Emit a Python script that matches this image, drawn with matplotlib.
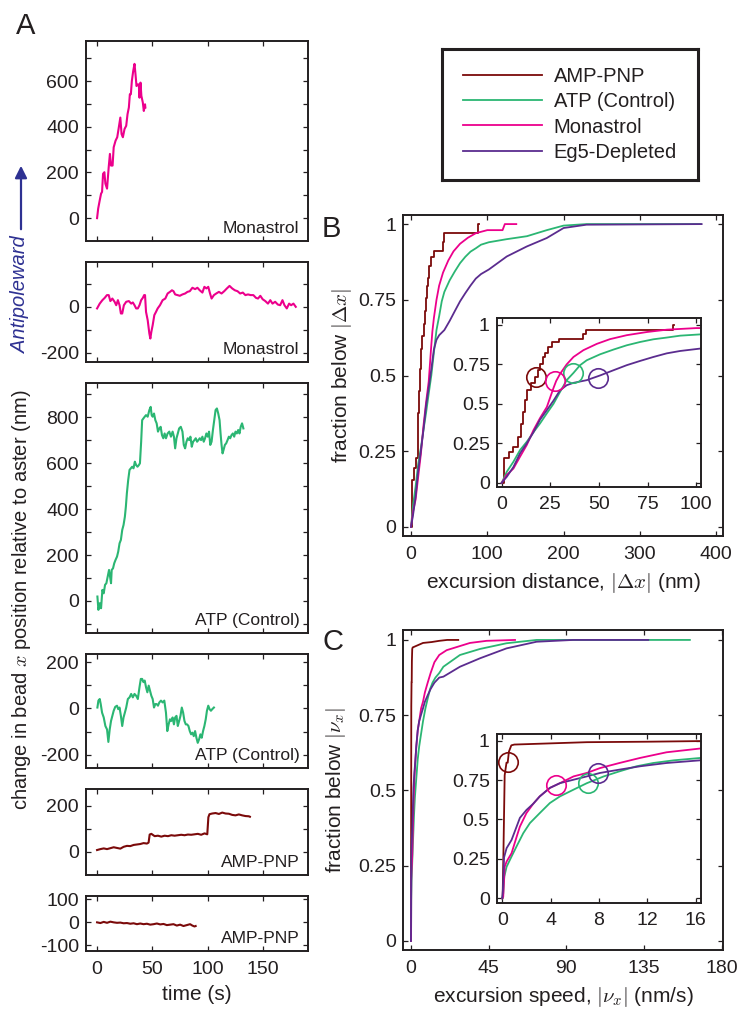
import matplotlib
matplotlib.use('Agg')
import matplotlib.pyplot as plt

plt.rcParams['font.family'] = ['Liberation Sans', 'DejaVu Sans']
plt.rcParams['mathtext.fontset'] = 'cm'
plt.rcParams['axes.unicode_minus'] = False

# ---------------- colours ----------------
C_AMP = '#7b0a0a'
C_ATP = '#2bb673'
C_MON = '#ec008c'
C_EG5 = '#5b2c8f'
C_ARROW = '#2e3192'
TXT = '#231f20'

# ---------------- panel A traces (time s, displacement nm) ----------------
mon1_t = [0, 1, 2.4, 3.6, 4.5, 5.4, 6.6, 7.5, 9, 10.5, 11.6, 12.6, 14, 15, 16.7, 18.2, 19.4, 21, 22.1,
          23.3, 24.8, 26.3, 27.5, 28.7, 29.6, 30.5, 31.4, 32.6, 33.8, 34.7, 35.6, 36.8, 37.7, 38.3,
          39.2, 40, 41.3, 42.2, 43.3, 43.6]
mon1_y = [0, 42, 78, 107, 115, 194, 201, 151, 129, 223, 281, 230, 230, 310, 339, 354, 390, 440, 368,
          354, 390, 404, 455, 484, 542, 542, 600, 643, 675, 629, 578, 585, 585, 527, 593, 535, 506,
          469, 498, 484]

mon2_t = [0, 2.4, 4.8, 6.9, 8.9, 10.5, 12, 13.8, 15.8, 17.3, 18.8, 20.3, 21.5, 22.7, 24.2, 26.3, 28.7,
          30.8, 32.3, 33.8, 35.3, 36.8, 38.3, 39.8, 41.3, 42.5, 43.3, 44.2, 45.7, 47.2, 48.1, 49, 50.2,
          51.7, 53.2, 54.7, 56.8, 59.2, 61.6, 63.7, 65.8, 67.6, 69, 70.5, 72.6, 74.7, 77.1, 79.5, 81.6,
          83.7, 86.1, 88.5, 90.6, 92.7, 95.1, 96.9, 98.7, 100.4, 102, 103.4, 105.5, 107.6, 110, 112.4,
          114.8, 117.2, 119.6, 122, 124.4, 126.8, 129.2, 131.6, 133.9, 136.3, 138.7, 141.1, 143.5,
          145.3, 147.4, 149.5, 151.9, 154.3, 156.4, 158.4, 160.8, 163.2, 165.3, 167.4, 169.2, 171.3,
          173.4, 175.2, 177.3, 179.4]
mon2_y = [-7, 14, 29, 39, 51, 51, 25, 36, 22, 7, 29, 7, -29, -29, 7, 22, 25, 14, 19, 7, -7, -7, 7, 29,
          39, 51, 51, -22, -58, -116, -138, -109, -80, -36, -22, -7, 7, 29, 36, 58, 65, 72, 68, 54, 51,
          48, 54, 58, 65, 68, 83, 77, 83, 72, 62, 87, 80, 87, 58, 36, 51, 58, 65, 58, 68, 80, 91, 80, 72,
          68, 58, 62, 51, 54, 51, 51, 39, 36, 48, 33, 25, 14, 29, 14, 22, 10, 7, 29, 7, -7, 14, 7, 14, 0]

atp1_t = [0.3, 1.2, 2.4, 3.6, 4.8, 6, 7.2, 8.4, 9.6, 10.8, 11.7, 12.6, 13.2, 14.4, 15.5, 16.7, 18, 19.1,
          20.3, 21.5, 22.7, 23.9, 25.1, 26, 26.9, 28.1, 29.3, 30.5, 31.7, 32.9, 34.1, 35.3, 36.5, 37.7,
          38.7, 39.8, 40.7, 41.9, 43, 44.2, 45.7, 47.2, 48.4, 49.3, 50.2, 51.4, 52.6, 53.8, 55, 56.2,
          57.4, 58.6, 59.8, 61, 62.2, 63.7, 65.2, 66.7, 68.2, 69.4, 70.5, 71.7, 72.9, 74.1, 75.6, 77.1,
          78.3, 79.5, 80.7, 81.9, 83.1, 84.3, 85.5, 86.7, 87.9, 89.1, 90.3, 91.5, 92.7, 93.9, 95.1, 96.3,
          97.5, 98.7, 99.9, 101.1, 102.2, 103.4, 104.6, 105.8, 107, 108.2, 109.4, 110.6, 111.5, 112.4,
          113.3, 114.2, 115.4, 116.6, 117.8, 119, 120.2, 121.4, 122.6, 123.8, 125, 126.2, 127.4, 128.6,
          129.7, 130.9, 132.1]
atp1_y = [19, -39, -10, -32, 48, 33, 70, 77, 106, 135, 106, 77, 135, 142, 164, 179, 193, 215, 251, 266,
          309, 331, 367, 411, 469, 527, 571, 578, 585, 578, 607, 592, 585, 592, 600, 694, 788, 796, 803,
          810, 803, 832, 846, 810, 803, 817, 788, 774, 738, 752, 759, 723, 709, 730, 709, 730, 738, 716,
          738, 716, 665, 709, 730, 752, 759, 738, 680, 665, 694, 709, 701, 716, 672, 694, 701, 709, 694,
          701, 709, 701, 716, 694, 709, 730, 716, 738, 680, 694, 745, 788, 832, 839, 817, 788, 730, 680,
          643, 658, 680, 687, 701, 716, 709, 723, 730, 716, 738, 730, 745, 730, 759, 774, 752]

atp2_t = [0.3, 1.2, 2.4, 3.3, 4.5, 6, 7.5, 9, 10.2, 11.4, 12.6, 13.8, 15, 16.4, 18, 19.1, 20.3, 21.5,
          22.7, 23.9, 25.1, 26.3, 27.8, 29.3, 30.8, 32.3, 33.8, 35.3, 36.8, 38.3, 39.5, 40.7, 41.9, 43,
          44.2, 45.4, 46.6, 47.8, 49, 50.2, 51.4, 52.6, 53.8, 55, 56.2, 57.7, 59.2, 60.7, 62.2, 63.4,
          64.6, 65.8, 67, 68.2, 69.4, 70.5, 71.7, 72.9, 74.1, 75.3, 76.5, 77.7, 78.9, 80.1, 81.3, 82.5,
          83.7, 84.9, 86.1, 87.3, 88.5, 89.7, 90.9, 92.1, 93.3, 94.5, 95.7, 96.9, 98.1, 99.2, 100.4,
          101.6, 102.8, 104, 105.5]
atp2_y = [4, 34, 41, 19, -18, -39, -76, -91, -145, -91, -54, -32, -10, 7, 12, -3, 4, -32, -76, -39, -18,
          4, 41, 48, 63, 48, 63, 55, 41, 92, 128, 128, 114, 121, 92, 70, 99, 77, 55, 41, 4, 19, 19, 12,
          26, 34, 26, 34, -18, -98, -69, -47, -54, -39, -69, -39, -32, -76, -54, -32, 4, -18, -54, -69,
          -69, -76, -98, -112, -105, -120, -98, -127, -149, -134, -112, -127, -98, -76, -47, -10, 12, -3,
          -10, -3, 4]

amp1_t = [0, 3, 6, 9, 12, 15, 18, 21, 24, 27, 30, 33, 36, 39, 42, 45, 46.5, 47.5, 49, 52, 55, 58, 61, 64,
          67, 70, 73, 76, 79, 82, 85, 88, 91, 94, 97, 99.5, 100.5, 101.5, 104, 107, 110, 113, 116, 119,
          122, 125, 128, 131, 134, 137, 138]
amp1_y = [8, 12, 15, 12, 16, 20, 17, 14, 22, 26, 25, 30, 32, 34, 38, 36, 40, 75, 78, 68, 70, 66, 70, 68,
          72, 70, 72, 74, 72, 75, 74, 76, 78, 74, 80, 76, 150, 163, 166, 168, 164, 170, 166, 165, 160,
          158, 162, 158, 155, 154, 152]

amp2_t = [0, 3, 6, 9, 12, 15, 18, 21, 24, 27, 30, 33, 36, 39, 42, 45, 48, 51, 54, 57, 60, 63, 66, 69, 72,
          75, 78, 81, 84, 86, 88, 89]
amp2_y = [0, -3, 2, -2, 3, 0, -2, -1, -4, -3, -6, -4, -8, -5, -8, -6, -10, -8, -5, -9, -7, -12, -10, -8,
          -14, -10, -16, -12, -8, -14, -18, -16]

# ---------------- panel B: cumulative fraction vs |dx| (nm) ----------------
b_amp_x = [0, 1.2, 3.9, 6, 8.6, 9.8, 10.8, 11.8, 13.2, 14.9, 17.2, 18.4, 19.7, 21.1, 22.5, 24, 25.7, 29.7,
           42, 43.2, 88, 88.5]
b_amp_y = [0, 0.154, 0.196, 0.228, 0.29, 0.375, 0.45, 0.523, 0.586, 0.629, 0.67, 0.713, 0.755, 0.797,
           0.823, 0.86, 0.89, 0.91, 0.94, 0.97, 1.0, 1.0]
b_atp_x = [0, 2.6, 6, 9.4, 12.9, 16.3, 19.7, 23.2, 26.6, 30, 33.4, 36.9, 40.3, 43.7, 50.6, 57.5, 64.3,
           71.2, 78, 84.9, 91.8, 102, 125, 152, 178, 200, 230, 380]
b_atp_y = [0, 0.07, 0.133, 0.207, 0.26, 0.32, 0.376, 0.44, 0.5, 0.576, 0.65, 0.696, 0.745, 0.776, 0.814,
           0.844, 0.871, 0.892, 0.909, 0.92, 0.932, 0.94, 0.95, 0.96, 0.98, 0.995, 1.0, 1.0]
b_mon_x = [0, 2.6, 6, 9.4, 12.9, 16.3, 19.7, 23.2, 26.6, 28, 30, 33.4, 36.9, 42, 48.9, 55.7, 64.3, 74.6,
           85, 100, 120, 123, 138]
b_mon_y = [0, 0.05, 0.09, 0.165, 0.24, 0.333, 0.41, 0.48, 0.6, 0.645, 0.69, 0.75, 0.797, 0.84, 0.88,
           0.91, 0.935, 0.955, 0.97, 0.98, 0.98, 1.0, 1.0]
b_eg5_x = [0, 2.6, 6, 9.4, 12.9, 16.3, 19.7, 23.2, 26.6, 30, 33.4, 36.9, 43.7, 50.6, 57.5, 64.3, 71.2, 78,
           84.9, 91.8, 102, 125.5, 151.7, 178, 200, 230, 381]
b_eg5_y = [0, 0.038, 0.10, 0.186, 0.25, 0.32, 0.40, 0.46, 0.52, 0.586, 0.618, 0.633, 0.65, 0.68, 0.713,
           0.745, 0.772, 0.797, 0.82, 0.835, 0.85, 0.893, 0.926, 0.954, 0.987, 0.998, 1.0]
# circled points (inset B), order: AMP-PNP, ATP, Monastrol, Eg5
b_mark_x = [17.7, 36.9, 27.4, 49.4]
b_mark_y = [0.667, 0.696, 0.643, 0.665]

# ---------------- panel C: cumulative fraction vs |v_x| (nm/s) ----------------
c_amp_x = [0, 0.03, 0.1, 0.2, 0.35, 0.45, 0.55, 0.75, 1.0, 3, 7, 12, 16.4, 21, 27.4]
c_amp_y = [0, 0, 0.3, 0.78, 0.86, 0.86, 0.93, 0.97, 0.975, 0.98, 0.99, 0.993, 0.997, 1.0, 1.0]
c_atp_x = [0, 0.08, 0.17, 0.36, 0.77, 1.19, 1.74, 2.29, 3.1, 3.94, 4.77, 5.9, 7, 8.4, 9.7, 11.1, 12.5,
           14.2, 16.4, 18.8, 28.4, 40, 55.4, 72.8, 161.6]
c_atp_y = [0, 0.03, 0.138, 0.2, 0.265, 0.33, 0.413, 0.477, 0.54, 0.604, 0.646, 0.689, 0.73, 0.773, 0.805,
           0.837, 0.858, 0.875, 0.89, 0.911, 0.95, 0.97, 0.989, 1.0, 1.0]
c_mon_x = [0, 0.08, 0.2, 0.36, 0.77, 1.19, 1.46, 2, 2.57, 3.1, 3.94, 4.77, 5.9, 7, 8.1, 9.7, 11.4, 13.6,
           16.4, 20.7, 34.2, 43.8, 60.3]
c_mon_y = [0, 0.01, 0.2, 0.233, 0.286, 0.39, 0.455, 0.54, 0.6, 0.646, 0.7, 0.73, 0.773, 0.795, 0.826,
           0.858, 0.89, 0.926, 0.95, 0.966, 0.99, 0.997, 1.0]
c_eg5_x = [0, 0.05, 0.15, 0.36, 0.77, 1.19, 1.46, 2, 2.57, 3.1, 3.94, 4.77, 5.9, 7, 8.1, 9.7, 11.4, 13.6,
           16.4, 18.8, 28.4, 40, 55.4, 72.8, 94, 137.5]
c_eg5_y = [0, 0.05, 0.26, 0.318, 0.37, 0.455, 0.51, 0.56, 0.6, 0.646, 0.7, 0.73, 0.752, 0.773, 0.795,
           0.816, 0.837, 0.858, 0.875, 0.878, 0.911, 0.939, 0.972, 0.994, 1.0, 1.0]
# circled points (inset C), order: AMP-PNP, ATP, Monastrol, Eg5
c_mark_x = [0.49, 7.1, 4.45, 7.9]
c_mark_y = [0.867, 0.73, 0.719, 0.793]

labels = ['AMP-PNP', 'ATP (Control)', 'Monastrol', 'Eg5-Depleted']
colors = [C_AMP, C_ATP, C_MON, C_EG5]

# ---------------- figure ----------------
W, H = 743, 1015
fig = plt.figure(figsize=(W / 100, H / 100), dpi=100)


def px_axes(left, top, right, bottom):
    return fig.add_axes([left / W, 1 - bottom / H, (right - left) / W, (bottom - top) / H])


def style(ax, fs=14, xpad=7, ypad=5):
    for s in ax.spines.values():
        s.set_linewidth(1.4)
        s.set_color(TXT)
    ax.tick_params(which='both', direction='in', top=True, right=True, length=3.5, width=0.9,
                   colors=TXT, labelsize=fs)
    ax.tick_params(axis='x', pad=xpad)
    ax.tick_params(axis='y', pad=ypad)


# ---- panel A ----
left_specs = [
    (41, 241, mon1_t, mon1_y, C_MON, (-100, 775), [0, 200, 400, 600], [100, 300, 500, 700], 'Monastrol'),
    (262, 362, mon2_t, mon2_y, C_MON, (-240, 195), [-200, 0], [-100, 100], 'Monastrol'),
    (383, 633, atp1_t, atp1_y, C_ATP, (-140, 950), [0, 200, 400, 600, 800], [-100, 100, 300, 500, 700, 900],
     'ATP (Control)'),
    (654, 768, atp2_t, atp2_y, C_ATP, (-258, 236), [-200, 0, 200], [-100, 100], 'ATP (Control)'),
    (789, 875, amp1_t, amp1_y, C_AMP, (-100, 272), [0, 200], [100], 'AMP-PNP'),
    (896, 951, amp2_t, amp2_y, C_AMP, (-125, 115), [-100, 0, 100], [], 'AMP-PNP'),
]
left_axes = []
for i, (top, bot, t, y, col, ylim, major, minor, name) in enumerate(left_specs):
    ax = px_axes(86, top, 307.5, bot)
    ax.plot(t, y, color=col, lw=1.5)
    ax.set_xlim(-10, 190)
    ax.set_ylim(*ylim)
    ax.set_xticks([0, 50, 100, 150])
    ax.set_yticks(major)
    ax.set_yticks(minor, minor=True)
    style(ax, fs=14)
    if i < len(left_specs) - 1:
        ax.tick_params(axis='x', labelbottom=False)
    ax.annotate(name, xy=(1, 0), xycoords='axes fraction', xytext=(-8, 8), textcoords='offset pixels',
                ha='right', va='baseline', fontsize=12.5, color=TXT)
    left_axes.append(ax)
left_axes[-1].set_xlabel('time (s)', fontsize=15, color=TXT, labelpad=5)

fig.text(22 / W, 1 - 600 / H, 'change in bead $x$ position relative to aster (nm)', rotation=90,
         ha='center', va='center', fontsize=14.5, color=TXT)
fig.text(21 / W, 1 - 295 / H, 'Antipoleward', rotation=90, ha='center', va='center', fontsize=14.5,
         color=C_ARROW, style='italic')
fig.add_artist(matplotlib.patches.FancyArrowPatch((21 / W, 1 - 232 / H), (21 / W, 1 - 163 / H),
                                                  transform=fig.transFigure, arrowstyle='-|>',
                                                  mutation_scale=18, color=C_ARROW, lw=1.6))
fig.text(16 / W, 1 - 12 / H, 'A', fontsize=21, ha='left', va='top', color=TXT)

# ---- panel B ----
axB = px_axes(403, 215, 723, 536)
axBi = px_axes(496.7, 318.3, 701, 486.7)
b_data = [(b_amp_x, b_amp_y), (b_atp_x, b_atp_y), (b_mon_x, b_mon_y), (b_eg5_x, b_eg5_y)]
handles = []
for ax in (axB, axBi):
    for (x, y), col, lab in zip(b_data, colors, labels):
        ds = 'steps-post' if col == C_AMP else 'default'
        ln, = ax.plot(x, y, color=col, lw=1.3, drawstyle=ds, label=lab)
        if ax is axB:
            handles.append(ln)
for mx, my, col in zip(b_mark_x, b_mark_y, colors):
    axBi.plot([mx], [my], 'o', mfc='none', mec=col, ms=14, mew=1.2)
axB.set_xlim(-10.5, 409)
axB.set_ylim(-0.03, 1.03)
axB.set_xticks([0, 100, 200, 300, 400])
axB.set_yticks([0, 0.25, 0.5, 0.75, 1])
axB.set_yticklabels(['0', '0.25', '0.5', '0.75', '1'])
style(axB)
axBi.set_xlim(-2.6, 102.5)
axBi.set_ylim(-0.025, 1.042)
axBi.set_xticks([0, 25, 50, 75, 100])
axBi.set_yticks([0, 0.25, 0.5, 0.75, 1])
axBi.set_yticklabels(['0', '0.25', '0.5', '0.75', '1'])
style(axBi)
axB.set_xlabel(r'excursion distance, $|\Delta x|$ (nm)', fontsize=15, color=TXT, labelpad=6)
axB.set_ylabel(r'fraction below $|\Delta x|$', fontsize=15, color=TXT, va='center')
axB.yaxis.set_label_coords(-0.19, 0.5)
fig.text(322 / W, 1 - 215 / H, 'B', fontsize=21, ha='left', va='top', color=TXT)

# ---- panel C ----
axC = px_axes(403, 630, 723, 950)
axCi = px_axes(496.7, 734.3, 701, 902.7)
c_data = [(c_amp_x, c_amp_y), (c_atp_x, c_atp_y), (c_mon_x, c_mon_y), (c_eg5_x, c_eg5_y)]
for ax in (axC, axCi):
    for (x, y), col in zip(c_data, colors):
        ax.plot(x, y, color=col, lw=1.3)
for mx, my, col in zip(c_mark_x, c_mark_y, colors):
    axCi.plot([mx], [my], 'o', mfc='none', mec=col, ms=14, mew=1.2)
axC.set_xlim(-4.6, 180.8)
axC.set_ylim(-0.03, 1.033)
axC.set_xticks([0, 45, 90, 135, 180])
axC.set_yticks([0, 0.25, 0.5, 0.75, 1])
axC.set_yticklabels(['0', '0.25', '0.5', '0.75', '1'])
style(axC)
axCi.set_xlim(-0.46, 16.45)
axCi.set_ylim(-0.028, 1.04)
axCi.set_xticks([0, 4, 8, 12, 16])
axCi.set_yticks([0, 0.25, 0.5, 0.75, 1])
axCi.set_yticklabels(['0', '0.25', '0.5', '0.75', '1'])
style(axCi)
axC.set_xlabel(r'excursion speed, $|\nu_x|$ (nm/s)', fontsize=15, color=TXT, labelpad=6)
axC.set_ylabel(r'fraction below $|\nu_x|$', fontsize=15, color=TXT, va='center')
axC.yaxis.set_label_coords(-0.21, 0.5)
fig.text(322 / W, 1 - 628 / H, 'C', fontsize=21, ha='left', va='top', color=TXT)

# ---- legend box ----
axL = px_axes(441.7, 49, 698.3, 180)
axL.set_xticks([])
axL.set_yticks([])
for s in axL.spines.values():
    s.set_linewidth(2.2)
    s.set_color(TXT)
axL.patch.set_alpha(0)
axL.legend(handles=handles, labels=labels, loc='center', frameon=False, fontsize=14.5,
           handlelength=3.9, handletextpad=0.6, labelspacing=0.3, borderpad=0, labelcolor=TXT)

fig.savefig('out.png', dpi=100)
